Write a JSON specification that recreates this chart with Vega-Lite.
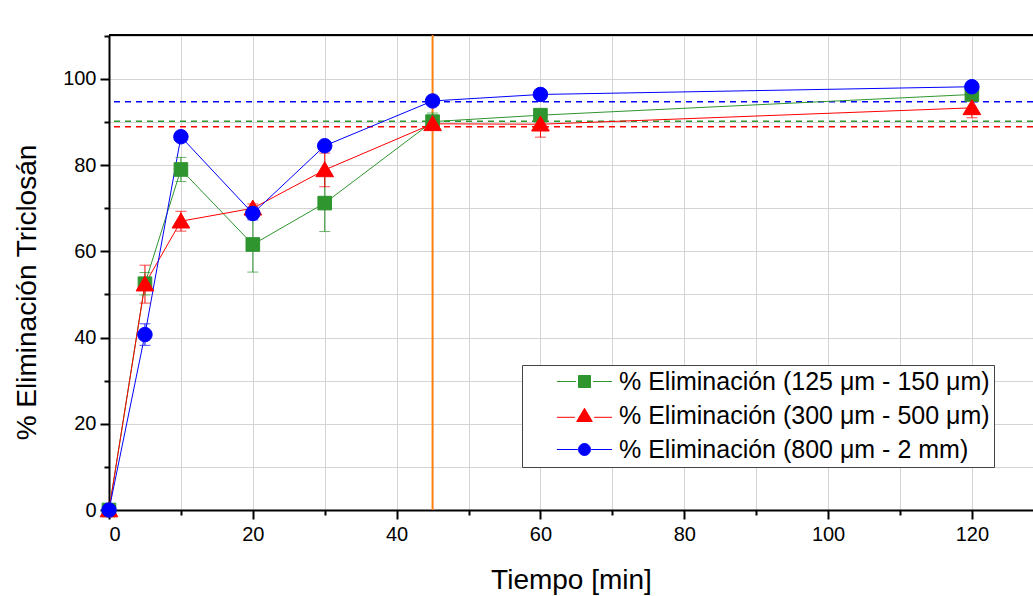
{
  "$schema": "https://vega.github.io/schema/vega-lite/v6.json",
  "width": 924,
  "height": 475,
  "autosize": {"type": "none"},
  "padding": {"left": 109, "top": 35, "right": 0, "bottom": 86},
  "background": "white",
  "config": {
    "font": "Liberation Sans",
    "view": {"stroke": null},
    "axis": {
      "domainColor": "black",
      "domainWidth": 2,
      "tickColor": "black",
      "tickWidth": 2,
      "gridColor": "#d4d4d4",
      "gridWidth": 1,
      "labelFont": "Liberation Sans",
      "labelFontSize": 20,
      "labelColor": "black",
      "titleFont": "Liberation Sans",
      "titleFontSize": 28,
      "titleFontWeight": "normal",
      "titleColor": "black"
    }
  },
  "datasets": {
    "pts": [
      {"t": 0, "v": 0, "err": 0, "s": "% Eliminación (125 μm - 150 μm)"},
      {"t": 5, "v": 52.5, "err": 2.6, "s": "% Eliminación (125 μm - 150 μm)"},
      {"t": 10, "v": 79, "err": 2.8, "s": "% Eliminación (125 μm - 150 μm)"},
      {"t": 20, "v": 61.6, "err": 6.4, "s": "% Eliminación (125 μm - 150 μm)"},
      {"t": 30, "v": 71.2, "err": 6.6, "s": "% Eliminación (125 μm - 150 μm)"},
      {"t": 45, "v": 90.1, "err": 2, "s": "% Eliminación (125 μm - 150 μm)"},
      {"t": 60, "v": 91.6, "err": 1, "s": "% Eliminación (125 μm - 150 μm)"},
      {"t": 120, "v": 96.4, "err": 1, "s": "% Eliminación (125 μm - 150 μm)"},
      {"t": 0, "v": 0, "err": 0, "s": "% Eliminación (300 μm - 500 μm)"},
      {"t": 5, "v": 52.4, "err": 4.4, "s": "% Eliminación (300 μm - 500 μm)"},
      {"t": 10, "v": 67, "err": 2.3, "s": "% Eliminación (300 μm - 500 μm)"},
      {"t": 20, "v": 70, "err": 1, "s": "% Eliminación (300 μm - 500 μm)"},
      {"t": 30, "v": 78.9, "err": 3.9, "s": "% Eliminación (300 μm - 500 μm)"},
      {"t": 45, "v": 89.6, "err": 1, "s": "% Eliminación (300 μm - 500 μm)"},
      {"t": 60, "v": 89.5, "err": 3, "s": "% Eliminación (300 μm - 500 μm)"},
      {"t": 120, "v": 93.3, "err": 2.3, "s": "% Eliminación (300 μm - 500 μm)"},
      {"t": 0, "v": 0, "err": 0, "s": "% Eliminación (800 μm - 2 mm)"},
      {"t": 5, "v": 40.7, "err": 2.5, "s": "% Eliminación (800 μm - 2 mm)"},
      {"t": 10, "v": 86.6, "err": 1, "s": "% Eliminación (800 μm - 2 mm)"},
      {"t": 20, "v": 68.8, "err": 1.5, "s": "% Eliminación (800 μm - 2 mm)"},
      {"t": 30, "v": 84.5, "err": 1, "s": "% Eliminación (800 μm - 2 mm)"},
      {"t": 45, "v": 94.9, "err": 1, "s": "% Eliminación (800 μm - 2 mm)"},
      {"t": 60, "v": 96.4, "err": 0.5, "s": "% Eliminación (800 μm - 2 mm)"},
      {"t": 120, "v": 98.2, "err": 1, "s": "% Eliminación (800 μm - 2 mm)"}
    ],
    "hl": [
      {"y": 90.2, "s": "% Eliminación (125 μm - 150 μm)"},
      {"y": 88.9, "s": "% Eliminación (300 μm - 500 μm)"},
      {"y": 94.7, "s": "% Eliminación (800 μm - 2 mm)"}
    ],
    "vl": [{"x": 45}],
    "top": [{"y": 110.2}]
  },
  "layer": [
    {
      "data": {"name": "pts"},
      "mark": {"type": "rule", "opacity": 0},
      "encoding": {
        "x": {
          "field": "t", "type": "quantitative",
          "scale": {"domain": [0, 128.5], "nice": false, "zero": false},
          "axis": {
            "title": "Tiempo [min]",
            "values": [0, 10, 20, 30, 40, 50, 60, 70, 80, 90, 100, 110, 120],
            "labelExpr": "datum.value % 20 === 0 ? datum.label : ''",
            "tickSize": {"condition": {"test": "datum.value % 20 === 0", "value": 9}, "value": 5},
            "labelPadding": 5,
            "titlePadding": 22
          }
        },
        "y": {
          "field": "v", "type": "quantitative",
          "scale": {"domain": [0, 110.2], "nice": false},
          "axis": {
            "title": "% Eliminación Triclosán",
            "titleY": 257,
            "values": [0, 10, 20, 30, 40, 50, 60, 70, 80, 90, 100, 110],
            "labelExpr": "datum.value % 20 === 0 ? datum.label : ''",
            "tickSize": {"condition": {"test": "datum.value % 20 === 0", "value": 9}, "value": 5},
            "labelPadding": 4,
            "titlePadding": 21
          }
        }
      }
    },
    {
      "data": {"name": "top"},
      "mark": {"type": "rule", "color": "black", "strokeWidth": 2},
      "encoding": {"y": {"field": "y", "type": "quantitative"}}
    },
    {
      "data": {"name": "hl"},
      "mark": {"type": "rule", "strokeDash": [6, 5], "strokeWidth": 1.5},
      "encoding": {
        "y": {"field": "y", "type": "quantitative"},
        "color": {"field": "s", "type": "nominal"}
      }
    },
    {
      "data": {"name": "vl"},
      "mark": {"type": "rule", "color": "#ff7f0e", "strokeWidth": 2},
      "encoding": {"x": {"field": "x", "type": "quantitative"}}
    },
    {
      "data": {"name": "pts"},
      "mark": {"type": "line", "strokeWidth": 1},
      "encoding": {
        "x": {"field": "t", "type": "quantitative"},
        "y": {"field": "v", "type": "quantitative"},
        "color": {"field": "s", "type": "nominal"},
        "detail": {"field": "s"}
      }
    },
    {
      "data": {"name": "pts"},
      "transform": [
        {"filter": "datum.err > 0"},
        {"calculate": "datum.v - datum.err", "as": "lo"},
        {"calculate": "datum.v + datum.err", "as": "hi"}
      ],
      "layer": [
        {
          "mark": {"type": "rule", "strokeWidth": 1},
          "encoding": {
            "x": {"field": "t", "type": "quantitative"},
            "y": {"field": "lo", "type": "quantitative"},
            "y2": {"field": "hi"},
            "color": {"field": "s", "type": "nominal"}
          }
        },
        {
          "mark": {"type": "tick", "orient": "horizontal", "size": 11, "thickness": 1},
          "encoding": {
            "x": {"field": "t", "type": "quantitative"},
            "y": {"field": "lo", "type": "quantitative"},
            "color": {"field": "s", "type": "nominal"}
          }
        },
        {
          "mark": {"type": "tick", "orient": "horizontal", "size": 11, "thickness": 1},
          "encoding": {
            "x": {"field": "t", "type": "quantitative"},
            "y": {"field": "hi", "type": "quantitative"},
            "color": {"field": "s", "type": "nominal"}
          }
        }
      ]
    },
    {
      "data": {"name": "pts"},
      "transform": [{"filter": "indexof(datum.s, '125') >= 0"}],
      "mark": {"type": "point", "shape": "square", "filled": true, "opacity": 1, "size": 185, "strokeWidth": 1},
      "encoding": {
        "x": {"field": "t", "type": "quantitative"},
        "y": {"field": "v", "type": "quantitative"},
        "color": {"field": "s", "type": "nominal"},
        "stroke": {"field": "s", "type": "nominal"}
      }
    },
    {
      "data": {"name": "pts"},
      "transform": [{"filter": "indexof(datum.s, '300') >= 0"}],
      "mark": {"type": "point", "shape": "M0,-1.2L1.3,1H-1.3Z", "filled": true, "opacity": 1, "size": 185, "strokeWidth": 1},
      "encoding": {
        "x": {"field": "t", "type": "quantitative"},
        "y": {"field": "v", "type": "quantitative"},
        "color": {"field": "s", "type": "nominal"},
        "stroke": {"field": "s", "type": "nominal"}
      }
    },
    {
      "data": {"name": "pts"},
      "transform": [{"filter": "indexof(datum.s, '800') >= 0"}],
      "mark": {"type": "point", "shape": "circle", "filled": true, "opacity": 1, "size": 210, "strokeWidth": 1},
      "encoding": {
        "x": {"field": "t", "type": "quantitative"},
        "y": {"field": "v", "type": "quantitative"},
        "color": {
          "field": "s", "type": "nominal",
          "scale": {
            "domain": ["% Eliminación (125 μm - 150 μm)", "% Eliminación (300 μm - 500 μm)", "% Eliminación (800 μm - 2 mm)"],
            "range": ["#2f952f", "#ff0000", "#0000ff"]
          },
          "legend": {
            "title": null,
            "orient": "none",
            "legendX": 413,
            "legendY": 330,
            "direction": "vertical",
            "fillColor": "white",
            "strokeColor": "#444444",
            "padding": 4,
            "labelFont": "Liberation Sans",
            "labelFontSize": 25,
            "labelColor": "black",
            "labelLimit": 600,
            "symbolSize": 144,
            "symbolOffset": 46,
            "labelOffset": 22,
            "rowPadding": 8,
            "symbolOpacity": 1,
            "symbolStrokeWidth": 1,
            "encode": {
              "symbols": {
                "update": {
                  "shape": {"signal": "indexof(datum.value, '125') >= 0 ? 'M-1,-1H1V1H-1Z M-4.6,0H-1.4 M1.4,0H4.6' : indexof(datum.value, '300') >= 0 ? 'M0,-1.2L1.3,1H-1.3Z M-4.6,0.3H-1.6 M1.6,0.3H4.6' : 'M1,0A1,1,0,1,1,-1,0A1,1,0,1,1,1,0Z M-4.6,0H-1.1 M1.1,0H4.6'"},
                  "strokeWidth": {"value": 1}
                }
              }
            }
          }
        },
        "stroke": {
          "field": "s", "type": "nominal",
          "scale": {
            "domain": ["% Eliminación (125 μm - 150 μm)", "% Eliminación (300 μm - 500 μm)", "% Eliminación (800 μm - 2 mm)"],
            "range": ["#2f952f", "#ff0000", "#0000ff"]
          }
        }
      }
    }
  ]
}
